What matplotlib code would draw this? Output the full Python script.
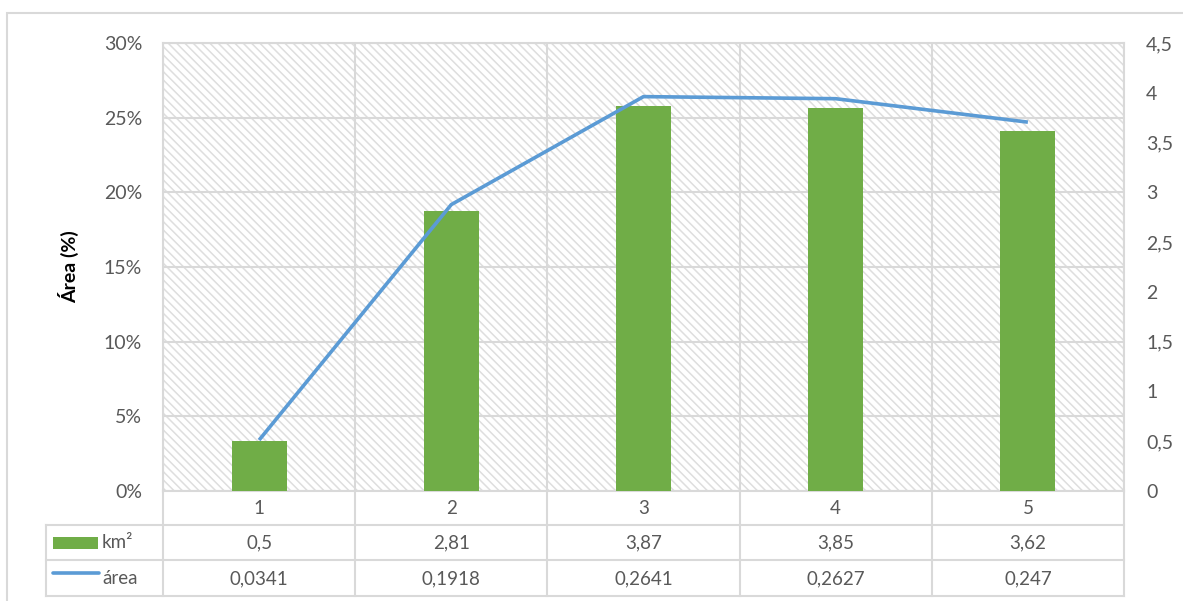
import matplotlib
matplotlib.use("Agg")
import matplotlib.pyplot as plt
import numpy as np
from matplotlib.patches import Rectangle
from matplotlib.ticker import FuncFormatter, PercentFormatter

plt.rcParams['font.family'] = ['Lato', 'DejaVu Sans']
plt.rcParams['hatch.linewidth'] = 1.1

# data table values
categories = [1, 2, 3, 4, 5]
km2 = [0.5, 2.81, 3.87, 3.85, 3.62]
area = [0.0341, 0.1918, 0.2641, 0.2627, 0.247]
km2_labels = ['0,5', '2,81', '3,87', '3,85', '3,62']
area_labels = ['0,0341', '0,1918', '0,2641', '0,2627', '0,247']

GREEN = '#70ad47'
BLUE = '#5b9bd5'
GRID = '#d9d9d9'
TEXT = '#595959'

W, H = 1183, 601
fig = plt.figure(figsize=(W / 100, H / 100), dpi=100)

# outer chart border (runs off the right/bottom edge)
fig.patches.append(Rectangle((7 / W, -0.2), 1.2, (H - 13) / H + 0.2,
                             transform=fig.transFigure, fill=False,
                             edgecolor=GRID, lw=1.5))

px_l, px_r, px_t, px_b = 163, 1124, 43, 491
ax = fig.add_axes([px_l / W, (H - px_b) / H, (px_r - px_l) / W, (px_b - px_t) / H])
x = np.array(categories)

# hatched plot background
ax.add_patch(Rectangle((0, 0), 1, 1, transform=ax.transAxes, facecolor='white',
                       edgecolor='#dedede', lw=0, hatch='\\\\\\\\', zorder=0))
ax.set_xlim(0.5, 5.5)
ax.set_ylim(0, 0.30)
ax.set_yticks(np.arange(0, 0.301, 0.05))
ax.yaxis.set_major_formatter(PercentFormatter(1.0, decimals=0))
ax.set_xticks([])
ax.set_xticks(np.arange(len(categories) + 1) + 0.5, minor=True)
ax.tick_params(axis='both', which='both', length=0, labelbottom=False)
ax.tick_params(axis='y', labelsize=14, labelcolor=TEXT, pad=15)
ax.set_axisbelow(True)
ax.grid(True, axis='y', color=GRID, lw=1.5)
ax.grid(True, axis='x', which='minor', color=GRID, lw=1.5)
for s in ax.spines.values():
    s.set_color(GRID)
    s.set_linewidth(1.5)
ax.set_ylabel('Área (%)', fontsize=14, fontweight='bold', color='black', labelpad=18)

# bars on the right axis (km²)
ax2 = ax.twinx()
ax2.bar(x, km2, width=0.286, color=GREEN, zorder=2)
ax2.set_ylim(0, 4.5)
ax2.set_yticks(np.arange(0, 4.51, 0.5))
ax2.yaxis.set_major_formatter(FuncFormatter(lambda v, p: f'{v:g}'.replace('.', ',')))
ax2.tick_params(axis='y', length=0, labelsize=14, labelcolor=TEXT, pad=16)
for s in ax2.spines.values():
    s.set_visible(False)

# area line on top, same scale as the left axis
ax3 = ax.twinx()
ax3.plot(x, area, color=BLUE, lw=2.6, solid_capstyle='butt')
ax3.set_ylim(ax.get_ylim())
ax3.set_yticks([])
for s in ax3.spines.values():
    s.set_visible(False)

# data table below the plot
tax = fig.add_axes([px_l / W, 5 / H, (px_r - px_l) / W, (px_b - 5 - px_b + 110) / H])
col_w = (px_r - px_l) / len(categories)
x_left = 0.5 - (px_l - 46) / col_w
rows = [0, 34, 69, 105]
tax.set_xlim(0.5, 5.5)
tax.set_ylim(105, 0)
tax.axis('off')
kw = dict(color=GRID, lw=1.5, clip_on=False)
for y in rows[1:]:
    tax.plot([x_left, 5.5], [y, y], **kw)
for b in np.arange(len(categories) + 1) + 0.5:
    tax.plot([b, b], [0, 105], **kw)
tax.plot([x_left, x_left], [34, 105], **kw)

tfs = 13.5
for i, c in enumerate(categories):
    tax.text(c, 17.5, str(c), ha='center', va='center', fontsize=tfs, color=TEXT)
    tax.text(c, 52, km2_labels[i], ha='center', va='center', fontsize=tfs, color=TEXT)
    tax.text(c, 87.5, area_labels[i], ha='center', va='center', fontsize=tfs, color=TEXT)

def px2x(p):
    return 0.5 + (p - px_l) / col_w

tax.add_patch(Rectangle((px2x(53), 46), px2x(98) - px2x(53), 12, facecolor=GREEN,
                        lw=0, clip_on=False))
tax.plot([px2x(53), px2x(99)], [81.5, 81.5], color=BLUE, lw=2.6, clip_on=False,
         solid_capstyle='round')
tax.text(px2x(102), 52, 'km²', ha='left', va='center', fontsize=tfs, color=TEXT)
tax.text(px2x(102), 87.5, 'área', ha='left', va='center', fontsize=tfs, color=TEXT)

fig.savefig('out.png', dpi=100, facecolor='white')
